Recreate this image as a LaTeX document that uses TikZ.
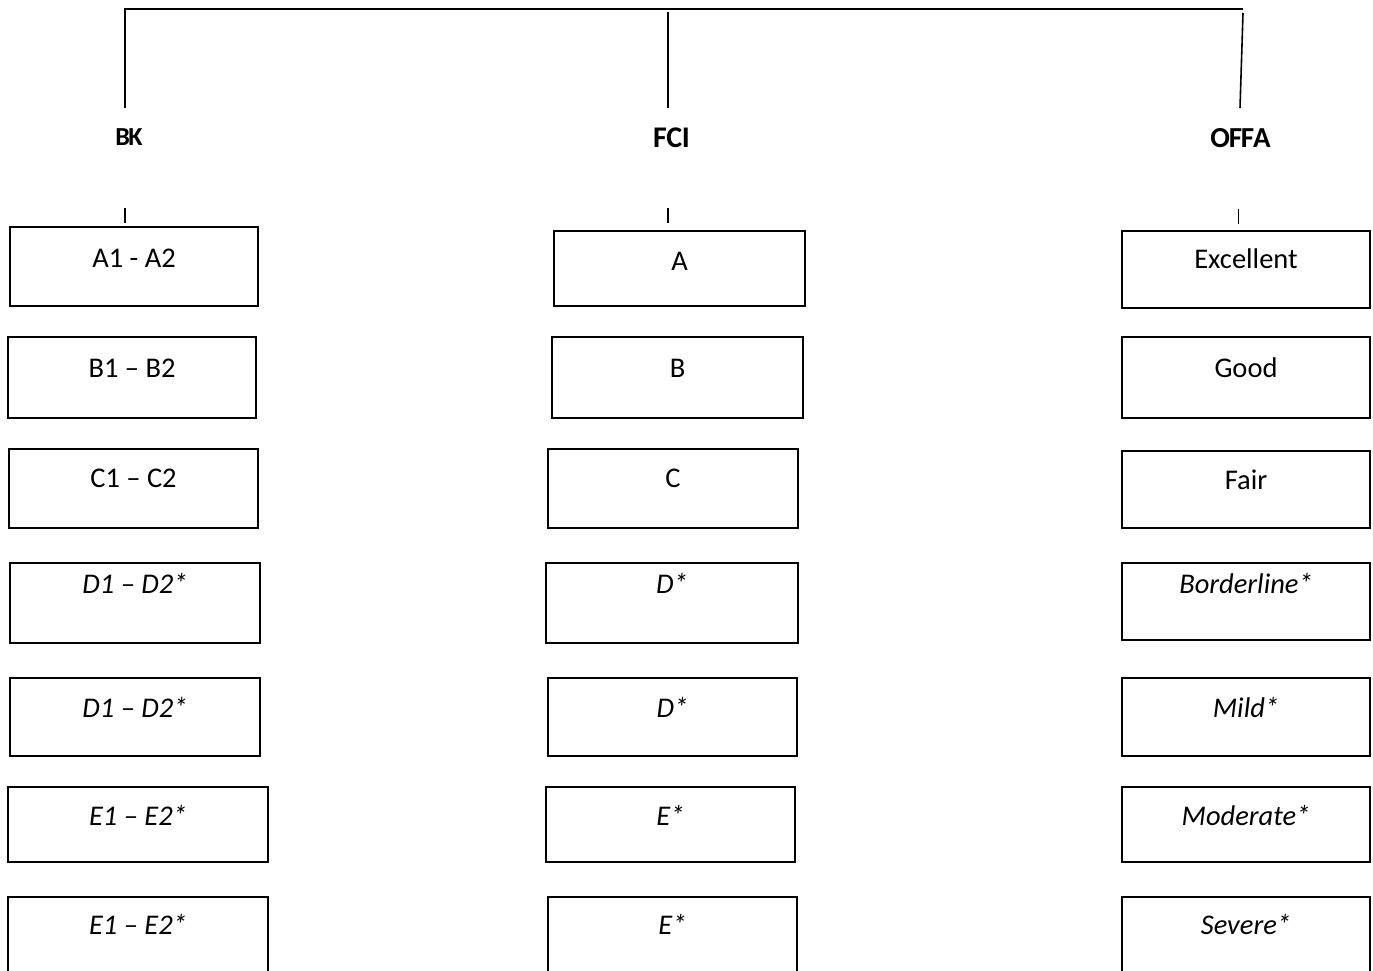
\documentclass[tikz,border=0pt]{standalone}
\usepackage{fontspec}
\setmainfont{Carlito}
\begin{document}
\begin{tikzpicture}[x=1pt,y=-1pt,
  box/.style={draw=black,line width=1.6pt,rectangle,inner sep=0pt,outer sep=0pt},
  txt/.style={anchor=base,inner sep=0pt,font=\fontsize{28.5}{32}\selectfont},
  itxt/.style={txt,font=\fontsize{28.5}{32}\selectfont\itshape},
  head/.style={anchor=base,inner sep=0pt},
  conn/.style={draw=black,line width=1.6pt},
  tick/.style={draw=black,line width=1.3pt}]
\useasboundingbox (0,0) rectangle (1373,971);
\clip (0,0) rectangle (1373,971);
\newcommand\bx[8]{%
  \node[box,minimum width={(#4-#2)*1pt},minimum height={(#5-#3)*1pt}] (#1) at ({(#2+#4)/2},{(#3+#5)/2}) {};
  \node[#7] (#1t) at ([yshift=-#8pt]#1.north) {#6};}
% headers
\node[head,font=\fontsize{26}{30}\selectfont\bfseries] (bk) at (129,146) {B\kern-1.5pt K};
\node[head,font=\fontsize{30}{32}\selectfont\bfseries] (fci) at (671.5,148) {F\kern-0.5pt C\kern-0.5pt I};
\node[head,font=\fontsize{29}{32}\selectfont\bfseries] (offa) at (1240.5,147) {O\kern-1.2pt F\kern-1.2pt F\kern-1.2pt A};
% top bracket
\coordinate (tl) at (125,9);
\coordinate (tr) at (1243,9);
\coordinate (bkt) at (125,108);
\coordinate (fcitop) at (668,12.5);
\coordinate (fcit) at (668,108);
\coordinate (offatop) at (1243,13);
\coordinate (offat) at (1240,108);
\draw[conn] (bkt) -- (tl) -- (tr);
\draw[conn] (fcitop) -- (fcit);
\draw[conn] (offatop) -- (offat);
% small ticks
\coordinate (bk1) at (125,208); \coordinate (bk2) at (125,223);
\coordinate (fc1) at (668,208); \coordinate (fc2) at (668,223);
\coordinate (of1) at (1238.5,209); \coordinate (of2) at (1238.5,224);
\draw[tick] (bk1) -- (bk2);
\draw[tick] (fc1) -- (fc2);
\draw[tick] (of1) -- (of2);
% BK column
\bx{b1}{10}{227}{258}{306}{A1 - A2}{txt}{40}
\bx{b2}{8}{337}{256}{418}{B1 – B2}{txt}{40}
\bx{b3}{9}{449}{258}{528}{C1 – C2}{txt}{38}
\bx{b4}{10}{563}{260}{643}{D1 – D2*}{itxt}{30}
\bx{b5}{10}{678}{260}{756}{D1 – D2*}{itxt}{39}
\bx{b6}{8}{787}{268}{862}{E1 – E2*}{itxt}{38}
\bx{b7}{8}{897}{268}{990}{E1 – E2*}{itxt}{37}
% FCI column
\bx{f1}{554}{231}{805}{306}{A}{txt}{39}
\bx{f2}{552}{337}{803}{418}{B}{txt}{40}
\bx{f3}{548}{449}{798}{528}{C}{txt}{38}
\bx{f4}{546}{563}{798}{643}{D*}{itxt}{30}
\bx{f5}{548}{678}{797}{756}{D*}{itxt}{39}
\bx{f6}{546}{787}{795}{862}{E*}{itxt}{38}
\bx{f7}{548}{897}{797}{990}{E*}{itxt}{37}
% OFFA column
\bx{o1}{1122}{231}{1370}{308}{Excellent}{txt}{37}
\bx{o2}{1122}{337}{1370}{418}{Good}{txt}{40}
\bx{o3}{1122}{451}{1370}{528}{Fair}{txt}{38}
\bx{o4}{1122}{563}{1370}{640}{Borderline*}{itxt}{30}
\bx{o5}{1122}{678}{1370}{756}{Mild*}{itxt}{39}
\bx{o6}{1122}{787}{1370}{862}{Moderate*}{itxt}{38}
\bx{o7}{1122}{897}{1370}{990}{Severe*}{itxt}{37}
\end{tikzpicture}
\end{document}
